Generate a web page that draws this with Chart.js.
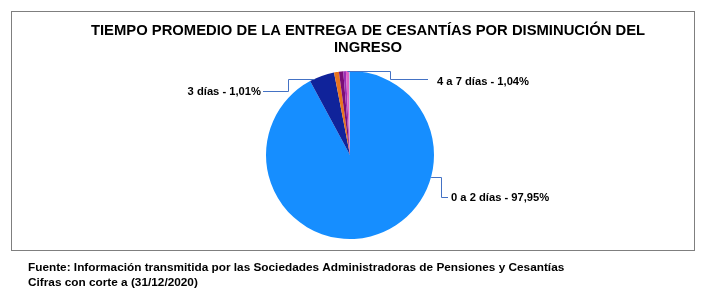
<!DOCTYPE html>
<html>
<head>
<meta charset="utf-8">
<script src="https://cdn.jsdelivr.net/npm/chart.js@4/dist/chart.umd.min.js"></script>
<style>
  html, body { margin: 0; padding: 0; background: #ffffff; }
  #wrap { width: 713px; height: 295px; position: relative; }
</style>
</head>
<body>
<div id="wrap"><canvas id="c" width="713" height="295"></canvas></div>
<script>
// ---- data ----
const titleLines = ['TIEMPO PROMEDIO DE LA ENTREGA DE CESANTÍAS POR DISMINUCIÓN DEL', 'INGRESO'];
const categories = ['0 a 2 días', '3 días', '', '', '', '4 a 7 días', ''];
const sliceValues = [92.1, 4.83, 0.94, 0.83, 0.5, 0.58, 0.2];
const shownPercent = [97.95, 1.01, null, null, null, 1.04, null];
const sliceColors = ['#168EFF', '#10239A', '#E8741E', '#7A0E78', '#9B30B5', '#E063C6', '#A9C8EE'];
const footerLines = [
  'Fuente: Información transmitida por las Sociedades Administradoras de Pensiones y Cesantías',
  'Cifras con corte a (31/12/2020)'
];

// ---- label layout (annotation placement, not data) ----
const labelLayout = {
  0: { angleDeg: 105, elbowX: 441, textY: 197, endX: 448, textX: 451, align: 'left' },
  1: { angleDeg: 335, elbowX: 288, textY: 91, endX: 263, textX: 261, align: 'right' },
  5: { angleDeg: null, elbowX: 390, textY: 79, endX: 428, textX: 437, align: 'left', textDy: 3 }
};

function fmtPct(v) { return v.toFixed(2).replace('.', ',') + '%'; }

const decor = {
  id: 'decor',
  beforeDraw(chart) {
    const ctx = chart.ctx;
    ctx.save();
    ctx.fillStyle = '#ffffff';
    ctx.fillRect(0, 0, chart.width, chart.height);
    ctx.strokeStyle = '#7F7F7F';
    ctx.lineWidth = 1;
    ctx.strokeRect(11.5, 11.5, 683, 239);
    ctx.restore();
  },
  afterDraw(chart) {
    const ctx = chart.ctx;
    ctx.save();
    // title
    ctx.fillStyle = '#000000';
    ctx.font = 'bold 14.8px "Liberation Sans", Arial, sans-serif';
    ctx.textAlign = 'center';
    ctx.textBaseline = 'middle';
    ctx.fillText(titleLines[0], 368, 31);
    ctx.fillText(titleLines[1], 368, 48);

    // labels with leader lines
    const meta = chart.getDatasetMeta(0);
    ctx.font = 'bold 11.2px "Liberation Sans", Arial, sans-serif';
    ctx.textBaseline = 'middle';
    Object.keys(labelLayout).forEach(k => {
      const i = +k;
      const L = labelLayout[i];
      const arc = meta.data[i];
      const p = arc.getProps(['x', 'y', 'startAngle', 'endAngle', 'outerRadius'], true);
      let a;
      if (L.angleDeg === null) a = (p.startAngle + p.endAngle) / 2;
      else a = -Math.PI / 2 + L.angleDeg * Math.PI / 180;
      const ax = p.x + Math.cos(a) * p.outerRadius;
      const ay = p.y + Math.sin(a) * p.outerRadius;
      ctx.strokeStyle = '#4472C4';
      ctx.lineWidth = 1;
      ctx.beginPath();
      ctx.moveTo(ax, Math.round(ay) + 0.5);
      ctx.lineTo(L.elbowX + 0.5, Math.round(ay) + 0.5);
      ctx.lineTo(L.elbowX + 0.5, L.textY + 0.5);
      ctx.lineTo(L.endX, L.textY + 0.5);
      ctx.stroke();
      ctx.fillStyle = '#000000';
      ctx.textAlign = L.align;
      ctx.fillText(categories[i] + ' - ' + fmtPct(shownPercent[i]), L.textX, L.textY + (L.textDy || 1));
    });

    // footer
    ctx.font = 'bold 11.8px "Liberation Sans", Arial, sans-serif';
    ctx.textAlign = 'left';
    ctx.fillText(footerLines[0], 28, 268);
    ctx.fillText(footerLines[1], 28, 283);
    ctx.restore();
  }
};

new Chart(document.getElementById('c'), {
  type: 'pie',
  data: {
    labels: categories,
    datasets: [{
      data: sliceValues,
      backgroundColor: sliceColors,
      borderWidth: 0
    }]
  },
  options: {
    responsive: false,
    animation: false,
    layout: { padding: { left: 200, right: 213, top: 71, bottom: 56 } },
    plugins: {
      legend: { display: false },
      tooltip: { enabled: false },
      title: { display: false }
    }
  },
  plugins: [decor]
});
</script>
</body>
</html>
